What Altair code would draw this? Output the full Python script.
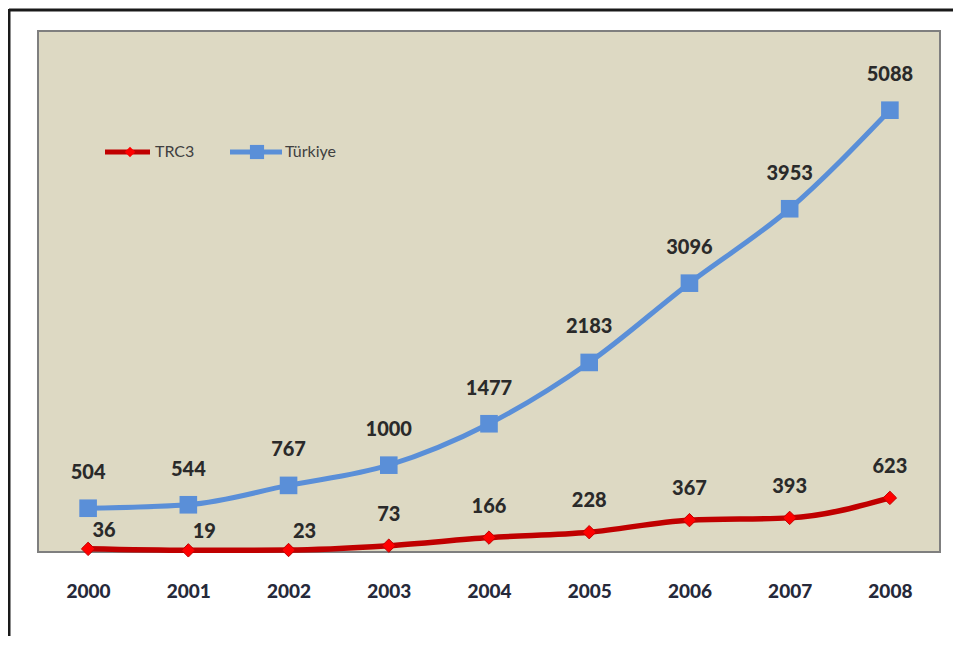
import altair as alt
import pandas as pd

years = ["2000", "2001", "2002", "2003", "2004", "2005", "2006", "2007", "2008"]
trc3 = [36, 19, 23, 73, 166, 228, 367, 393, 623]
turkiye = [504, 544, 767, 1000, 1477, 2183, 3096, 3953, 5088]

df = pd.DataFrame({
    "year": years * 2,
    "value": trc3 + turkiye,
    "series": ["TRC3"] * len(years) + ["Türkiye"] * len(years),
})

BLUE = "#5A8FD8"
DARKRED = "#C00000"
RED = "#FF0000"
FONT = "Lato"

x = alt.X("year:N", sort=years,
          axis=alt.Axis(title=None, labelAngle=0, ticks=False, domain=False,
                        labelFont=FONT, labelFontSize=19, labelFontWeight=900,
                        labelColor="#26293a", labelPadding=30))
y = alt.Y("value:Q", scale=alt.Scale(domain=[0, 6000], nice=False), axis=None)

base = alt.Chart(df).encode(x=x, y=y)
tk = base.transform_filter(alt.datum.series == "Türkiye")
tr = base.transform_filter(alt.datum.series == "TRC3")

tk_line = tk.mark_line(color=BLUE, strokeWidth=5, interpolate="monotone")
tk_pts = tk.mark_point(shape="square", filled=True, size=310, color=BLUE, opacity=1)
tr_line = tr.mark_line(color=DARKRED, strokeWidth=5.5, interpolate="monotone")
tr_pts = tr.mark_point(shape="diamond", filled=True, size=180, color=RED, opacity=1,
                       stroke=DARKRED, strokeWidth=1)

txt_style = dict(font=FONT, fontSize=20, fontWeight=900, color="#2a2a2a", baseline="middle")
tk_txt = tk.mark_text(dy=-35, **txt_style).encode(text="value:Q")
tr_txt_early = tr.transform_filter(alt.FieldOneOfPredicate(field="year", oneOf=["2000", "2001", "2002"])) \
    .mark_text(dx=16, dy=-18, **txt_style).encode(text="value:Q")
tr_txt_late = tr.transform_filter(~alt.FieldOneOfPredicate(field="year", oneOf=["2000", "2001", "2002"])) \
    .mark_text(dy=-31, **txt_style).encode(text="value:Q")

one = alt.Data(values=[{"a": 1}])
leg_y = 121
leg = [
    alt.Chart(one).mark_rule(color=DARKRED, strokeWidth=5).encode(
        x=alt.value(67), x2=alt.value(112), y=alt.value(leg_y)),
    alt.Chart(one).mark_point(shape="diamond", filled=True, size=110, color=RED, opacity=1).encode(
        x=alt.value(92), y=alt.value(leg_y)),
    alt.Chart(one).mark_text(align="left", baseline="middle", font=FONT, fontSize=16,
                             color="#404040").encode(
        x=alt.value(117), y=alt.value(leg_y), text=alt.value("TRC3")),
    alt.Chart(one).mark_rule(color=BLUE, strokeWidth=5).encode(
        x=alt.value(192), x2=alt.value(244), y=alt.value(leg_y)),
    alt.Chart(one).mark_point(shape="square", filled=True, size=200, color=BLUE, opacity=1).encode(
        x=alt.value(219), y=alt.value(leg_y)),
    alt.Chart(one).mark_text(align="left", baseline="middle", font=FONT, fontSize=16,
                             color="#404040").encode(
        x=alt.value(247), y=alt.value(leg_y), text=alt.value("Türkiye")),
]

frame = [
    alt.Chart(one).mark_rule(color="#1a1a1a", strokeWidth=3).encode(
        x=alt.value(-29), x2=alt.value(930), y=alt.value(-21)),
    alt.Chart(one).mark_rule(color="#1a1a1a", strokeWidth=3).encode(
        x=alt.value(-29), y=alt.value(-22), y2=alt.value(620)),
]

chart = alt.layer(tk_line, tr_line, tk_pts, tr_pts, tk_txt, tr_txt_early, tr_txt_late,
                  *leg, *frame).properties(
    width=902, height=521,
    autosize=alt.AutoSizeParams(type="none"),
    padding={"left": 30, "top": 23, "right": 13, "bottom": 84},
    background="white",
).configure_view(fill="#DDD9C3", stroke="#7F7F7F", strokeWidth=2)

chart.save("out.html", embed_options={"renderer": "svg", "actions": False})
